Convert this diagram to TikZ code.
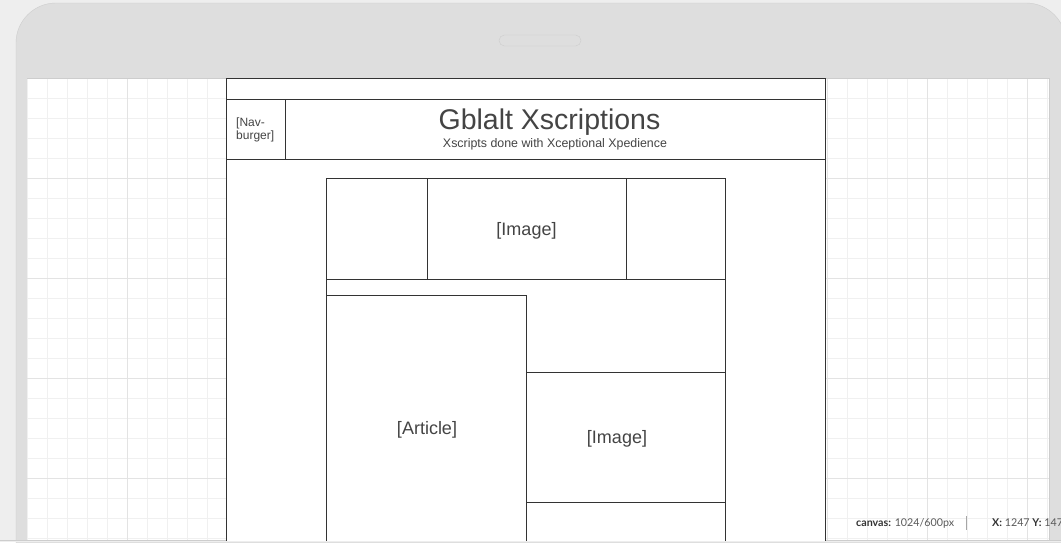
\documentclass[tikz,border=0pt]{standalone}
\usepackage{fontspec}
\setmainfont{Liberation Sans}
\newfontfamily\statusfont{Lato}
\usepackage{tikz}
\usetikzlibrary{positioning}
\usepackage{xcolor}
\definecolor{outerbg}{HTML}{EEEEEE}
\definecolor{device}{HTML}{DEDEDE}
\definecolor{deviceedge}{HTML}{CDCDCD}
\definecolor{gridminor}{HTML}{F0F0F0}
\definecolor{gridmajor}{HTML}{E3E3E3}
\definecolor{wire}{HTML}{333333}
\definecolor{wiretext}{HTML}{444444}

\begin{document}
\begin{tikzpicture}[x=1pt,y=-1pt,
  box/.style={draw=wire,fill=white,line width=1pt,inner sep=0pt,outer sep=0pt,anchor=north west},
  lbl/.style={text=wiretext,inner sep=0pt},
  imgfont/.style={font=\fontsize{18}{20}\selectfont,text=wiretext}]
\clip (0,0) rectangle (1061,542);
\fill[outerbg] (0,0) rectangle (1061,542);
% tablet frame and screen
\draw[deviceedge,fill=device,rounded corners=40pt] (16,3) rectangle (1066,600);
\draw[deviceedge,fill=device,rounded corners=5.5pt] (499,35) rectangle (581,46);
\draw[deviceedge,fill=white] (26.7,78) rectangle (1049,540);
\foreach \i in {0,...,51}
  \draw[gridminor] ({26.7+20*\i},78.5) -- ++(0,462);
\foreach \j in {1,...,23}
  \draw[gridminor] (27,{78+20*\j}) -- (1049,{78+20*\j});
\foreach \i in {1,...,10}
  \draw[gridmajor] ({26.7+100*\i},78.5) -- ++(0,462);
\foreach \j in {1,...,4}
  \draw[gridmajor] (27,{78+100*\j}) -- (1049,{78+100*\j});
\fill[outerbg] (0,540) rectangle (1061,542);
\draw[deviceedge] (0,540.5) -- (1061,540.5);

\begin{scope}
\clip (26.7,78) rectangle (1049,540);
% page wireframe
\node[box,minimum width=599pt,minimum height=482pt] (page) at (226,78) {};
\node[box,minimum width=599pt,minimum height=21pt] (topbar) at (226,78) {};
\node[box,minimum width=59pt,minimum height=60pt,below=0pt of topbar.south west,anchor=north west] (navburger) {};
\node[box,minimum width=540pt,minimum height=60pt,right=0pt of navburger.north east,anchor=north west] (titlebar) {};
\node[lbl,anchor=west,align=left,font=\fontsize{12}{13}\selectfont] (navtext) at (236,129.5) {[Nav-\\burger]};
\node[lbl,font=\fontsize{28.5}{30}\selectfont] (title) at (549.5,122.5) {Gblalt Xscriptions};
\node[lbl,font=\fontsize{12.4}{14}\selectfont] (subtitle) at (555,144.5) {Xscripts done with Xceptional Xpedience};
% hero row
\node[box,minimum width=101pt,minimum height=101pt] (heroleft) at (326,178) {};
\node[box,minimum width=199pt,minimum height=101pt,right=0pt of heroleft.north east,anchor=north west] (heroimg) {};
\node[box,minimum width=99pt,minimum height=101pt,right=0pt of heroimg.north east,anchor=north west] (heroright) {};
\node[lbl,imgfont] (herolabel) at (526.5,230.5) {[Image]};
% content
\node[box,minimum width=399pt,minimum height=281pt,below=0pt of heroleft.south west,anchor=north west] (content) {};
\node[box,minimum width=200pt,minimum height=265pt] (article) at (326,295) {};
\node[lbl,imgfont] (articlelabel) at (427,429.5) {[Article]};
\node[box,minimum width=199pt,minimum height=130pt] (sideimg) at (526,372) {};
\node[box,minimum width=199pt,minimum height=60pt,below=0pt of sideimg.south west,anchor=north west] (sidelow) {};
\node[lbl,imgfont] (sidelabel) at (617,439) {[Image]};
\end{scope}

% status bar
\node[anchor=west,inner sep=0pt,font=\statusfont\fontsize{10.7}{12}\selectfont,text=black!65] (canvasinfo) at (856,523) {\textcolor{black!80}{\textbf{canvas:}} 1024/600px};
\draw[black!35] (966,516) -- (966,530);
\node[anchor=west,inner sep=0pt,font=\statusfont\fontsize{10.7}{12}\selectfont,text=black!65] (cursorinfo) at (992,523) {\textcolor{black!80}{\textbf{X:}} 1247 \textcolor{black!80}{\textbf{Y:}} 147};
\end{tikzpicture}
\end{document}
